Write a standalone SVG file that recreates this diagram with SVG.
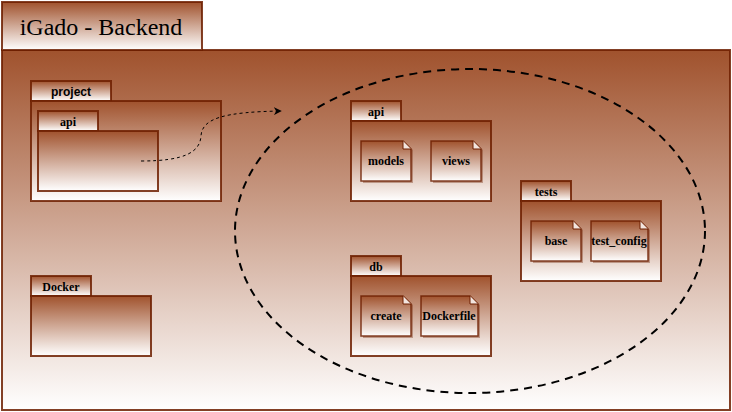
<svg xmlns="http://www.w3.org/2000/svg" width="732" height="412" viewBox="0 0 732 412">
<defs>
<linearGradient id="g" x1="0" y1="0" x2="0" y2="1">
<stop offset="0" stop-color="#a0522d"/>
<stop offset="1" stop-color="#ffffff"/>
</linearGradient>
<marker id="arr" viewBox="0 0 10 10" refX="9" refY="5" markerWidth="8" markerHeight="8" markerUnits="userSpaceOnUse" orient="auto">
<path d="M0,0 L10,5 L0,10 L3,5 Z" fill="#000"/>
</marker>
</defs>
<style>
.box{fill:url(#g);stroke:#6d1f00;stroke-width:2;stroke-opacity:0.85}
.shadow{fill:#6d1f00;opacity:0.35}
.fold{fill:#f3e5df;stroke:#6d1f00;stroke-width:1}
.lbl{font-family:"Liberation Serif",serif;font-weight:bold;font-size:12px;fill:#000;text-anchor:middle}
.lbls{font-family:"Liberation Sans",sans-serif;font-weight:bold;font-size:12px;fill:#000;text-anchor:middle}
.title{font-family:"Liberation Serif",serif;font-size:24px;fill:#000;text-anchor:middle}
.conn{fill:none;stroke:#000;stroke-dasharray:3,3;stroke-width:1}
</style>
<g id="frame">
<rect class="box" x="2" y="50" width="728" height="360"/>
<rect class="box" x="2" y="2" width="200" height="48"/>
<text class="title" x="101" y="35">iGado - Backend</text>
</g>
<g id="project">
<rect class="box" x="31" y="81" width="80" height="20"/>
<rect class="box" x="31" y="101" width="190" height="100"/>
<text class="lbls" x="71" y="96">project</text>
</g>
<g id="project-api">
<rect class="box" x="38" y="111" width="60" height="20"/>
<rect class="box" x="38" y="131" width="120" height="60"/>
<text class="lbl" x="68" y="126">api</text>
</g>
<g id="docker">
<rect class="box" x="31" y="276" width="60" height="20"/>
<rect class="box" x="31" y="296" width="120" height="60"/>
<text class="lbl" x="61" y="291">Docker</text>
</g>
<g id="scope">
<ellipse cx="470" cy="231" rx="235" ry="162" fill="none" stroke="#000" stroke-width="2" stroke-dasharray="8,6"/>
</g>
<g id="api">
<rect class="box" x="351" y="101" width="50" height="20"/>
<rect class="box" x="351" y="121" width="140" height="80"/>
<text class="lbl" x="376" y="116">api</text>
</g>
<g id="models">
<path class="shadow" d="M363,143 H406 L413,150 V183 H363 Z"/>
<path class="box" style="stroke-width:1.5" d="M361,141 H403 L411,149 V181 H361 Z"/>
<path class="fold" d="M403,141 L403,149 L411,149"/>
<text class="lbl" x="386" y="165">models</text>
</g>
<g id="views">
<path class="shadow" d="M433,143 H476 L483,150 V183 H433 Z"/>
<path class="box" style="stroke-width:1.5" d="M431,141 H473 L481,149 V181 H431 Z"/>
<path class="fold" d="M473,141 L473,149 L481,149"/>
<text class="lbl" x="456" y="165">views</text>
</g>
<g id="tests">
<rect class="box" x="521" y="181" width="50" height="20"/>
<rect class="box" x="521" y="201" width="140" height="80"/>
<text class="lbl" x="546" y="196">tests</text>
</g>
<g id="base">
<path class="shadow" d="M533,223 H576 L583,230 V263 H533 Z"/>
<path class="box" style="stroke-width:1.5" d="M531,221 H573 L581,229 V261 H531 Z"/>
<path class="fold" d="M573,221 L573,229 L581,229"/>
<text class="lbl" x="556" y="245">base</text>
</g>
<g id="test_config">
<path class="shadow" d="M593,223 H643 L650,230 V263 H593 Z"/>
<path class="box" style="stroke-width:1.5" d="M591,221 H640 L648,229 V261 H591 Z"/>
<path class="fold" d="M640,221 L640,229 L648,229"/>
<text class="lbl" x="619" y="245">test_config</text>
</g>
<g id="db">
<rect class="box" x="351" y="256" width="50" height="20"/>
<rect class="box" x="351" y="276" width="140" height="80"/>
<text class="lbl" x="376" y="271">db</text>
</g>
<g id="create">
<path class="shadow" d="M363,298 H406 L413,305 V338 H363 Z"/>
<path class="box" style="stroke-width:1.5" d="M361,296 H403 L411,304 V336 H361 Z"/>
<path class="fold" d="M403,296 L403,304 L411,304"/>
<text class="lbl" x="386" y="320">create</text>
</g>
<g id="dockerfile">
<path class="shadow" d="M423,298 H473 L480,305 V338 H423 Z"/>
<path class="box" style="stroke-width:1.5" d="M421,296 H470 L478,304 V336 H421 Z"/>
<path class="fold" d="M470,296 L470,304 L478,304"/>
<text class="lbl" x="449" y="320">Dockerfile</text>
</g>
<g id="connectors">
<path class="conn" d="M141,161 C185,161 200,152 201,136 C202,118 225,112 281,111" marker-end="url(#arr)"/>
</g>
</svg>
